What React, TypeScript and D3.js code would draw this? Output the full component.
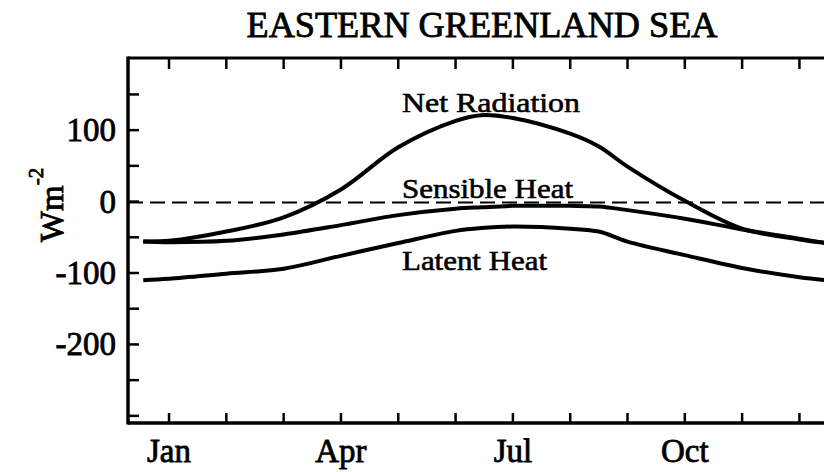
import * as d3 from "d3";

const months = [-0.45, 0, 1, 2, 3, 4, 5, 5.45, 6, 7, 7.5, 8, 9, 10, 11, 11.45];
const netRadiation = [-56, -55, -42, -22, 17, 76, 113, 121, 117, 95, 77, 49, 1, -38, -53, -58];
const sensibleHeat = [-56, -57, -55, -46, -33, -19, -10, -8, -6, -6, -7, -12, -24, -39, -52, -58];
const latentHeat = [-110, -108, -101, -94, -76, -58, -41, -37, -35, -38, -42, -56, -75, -93, -106, -110];

const monthTicks = [0, 1, 2, 3, 4, 5, 6, 7, 8, 9, 10, 11, 12];
const monthLabels = [
  { m: 0, label: "Jan" },
  { m: 3, label: "Apr" },
  { m: 6, label: "Jul" },
  { m: 9, label: "Oct" },
];
const yTicks = [-300, -250, -200, -150, -100, -50, 0, 50, 100, 150];
const yLabels = [100, 0, -100, -200];

const series = [
  { name: "Net Radiation", values: netRadiation, lx: 402, ly: 112, len: 178 },
  { name: "Sensible Heat", values: sensibleHeat, lx: 402, ly: 198, len: 171 },
  { name: "Latent Heat", values: latentHeat, lx: 402, ly: 270, len: 145 },
];

const width = 824;
const height = 472;
const left = 128;
const top = 58;
const bottom = 423;
const font = "'Liberation Serif', 'Times New Roman', serif";

const App = () => {
  const x = d3.scaleLinear().domain([-0.716, 12.72]).range([left, 898]);
  const y = d3.scaleLinear().domain([-310, 201]).range([bottom, top]);

  const line = d3
    .line<number>()
    .x((_, i) => x(months[i]))
    .y((d) => y(d))
    .curve(d3.curveCatmullRom.alpha(0.5));

  return (
    <svg
      width={width}
      height={height}
      style={{ position: "absolute", left: 0, top: 0, background: "#fff" }}
    >
      <text
        x={482}
        y={37}
        textAnchor="middle"
        fontFamily={font}
        fontSize={35}
        textLength={471}
        lengthAdjust="spacingAndGlyphs"
        stroke="#000"
        strokeWidth={0.8}
      >
        EASTERN GREENLAND SEA
      </text>

      {/* frame */}
      <line x1={left} x2={width} y1={top} y2={top} stroke="#000" strokeWidth={3} />
      <line x1={left} x2={width} y1={bottom} y2={bottom} stroke="#000" strokeWidth={3.5} />
      <line x1={left} x2={left} y1={top - 1.5} y2={bottom + 1.5} stroke="#000" strokeWidth={3.5} />

      {/* month ticks, top and bottom, pointing in */}
      {monthTicks.map((m) => (
        <g key={m}>
          <line x1={x(m)} x2={x(m)} y1={top} y2={top + 11} stroke="#000" strokeWidth={2.5} />
          <line x1={x(m)} x2={x(m)} y1={bottom} y2={bottom - 10} stroke="#000" strokeWidth={2.5} />
        </g>
      ))}
      {monthLabels.map((d) => (
        <text
          key={d.label}
          x={x(d.m)}
          y={462}
          textAnchor="middle"
          fontFamily={font}
          fontSize={33}
          stroke="#000"
          strokeWidth={0.8}
        >
          {d.label}
        </text>
      ))}

      {/* y ticks */}
      {yTicks.map((v) => (
        <line key={v} x1={left} x2={left + 11} y1={y(v)} y2={y(v)} stroke="#000" strokeWidth={2.5} />
      ))}
      {yLabels.map((v) => (
        <text
          key={v}
          x={116}
          y={y(v) + 11}
          textAnchor="end"
          fontFamily={font}
          fontSize={33}
          stroke="#000"
          strokeWidth={0.8}
        >
          {v}
        </text>
      ))}

      <text
        transform="translate(63,205) rotate(-90)"
        textAnchor="middle"
        fontFamily={font}
        fontSize={33}
        stroke="#000"
        strokeWidth={0.8}
      >
        Wm
        <tspan fontSize={21} dy={-20}>-2</tspan>
      </text>

      {/* zero line */}
      <line
        x1={left}
        x2={width}
        y1={y(0) + 1}
        y2={y(0) + 1}
        stroke="#000"
        strokeWidth={2}
        strokeDasharray="15 7"
      />

      {series.map((s) => (
        <g key={s.name}>
          <path d={line(s.values) ?? ""} fill="none" stroke="#000" strokeWidth={4} />
          <text
            x={s.lx}
            y={s.ly}
            fontFamily={font}
            fontSize={28}
            textLength={s.len}
            lengthAdjust="spacingAndGlyphs"
            stroke="#000"
            strokeWidth={0.6}
          >
            {s.name}
          </text>
        </g>
      ))}
    </svg>
  );
};

export default App;
